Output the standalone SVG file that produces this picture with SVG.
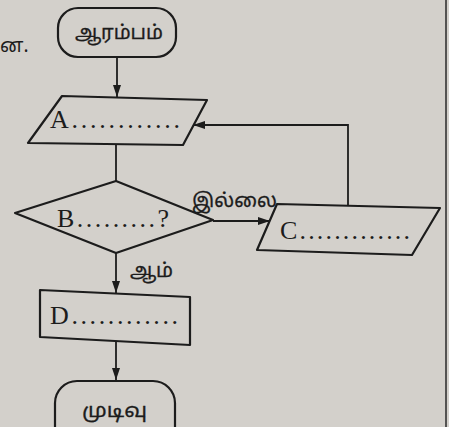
<svg xmlns="http://www.w3.org/2000/svg" width="449" height="427" viewBox="0 0 449 427">
<style>
.bg{fill:#d3d0cb}
.shape{fill:none;stroke:#1c1c1c;stroke-width:2.2;stroke-linejoin:round}
.conn{fill:none;stroke:#1c1c1c;stroke-width:1.8}
.lat{font-family:"Liberation Serif","Times New Roman",serif;font-size:26px;fill:#1c1c1c}
.tam{font-family:"Noto Sans Tamil","Lohit Tamil","Noto Sans","DejaVu Sans",sans-serif;font-size:19px;fill:#1c1c1c;stroke:#1c1c1c;stroke-width:0.3}
</style>
<defs>
<marker id="ah" viewBox="0 0 12 8" refX="12" refY="4" markerWidth="12" markerHeight="8" markerUnits="userSpaceOnUse" orient="auto">
<path d="M0,0 L12,4 L0,8 Z" fill="#1c1c1c"/>
</marker>
</defs>
<rect class="bg" x="0" y="0" width="449" height="427"/>
<line x1="446" y1="0" x2="446" y2="427" stroke="#2a2a2a" stroke-width="1.5"/>
<text class="tam" x="0" y="52" font-size="13" style="stroke-width:0">ன.</text>
<g id="connectors">
<line class="conn" x1="117" y1="57" x2="117" y2="97" marker-end="url(#ah)"/>
<line class="conn" x1="116" y1="145" x2="116" y2="181"/>
<line class="conn" x1="213" y1="221" x2="270" y2="221" marker-end="url(#ah)"/>
<polyline class="conn" points="348,205 348,125 193,125" marker-end="url(#ah)"/>
<line class="conn" x1="116" y1="253" x2="116" y2="293" marker-end="url(#ah)"/>
<line class="conn" x1="116" y1="342" x2="116" y2="380" marker-end="url(#ah)"/>
<text class="tam" x="192" y="207" textLength="85" lengthAdjust="spacingAndGlyphs">இல்லை</text>
<text class="tam" x="130" y="277" textLength="43" lengthAdjust="spacingAndGlyphs">ஆம்</text>
</g>
<g id="start">
<rect class="shape" x="58" y="8" width="118" height="49" rx="20"/>
<text class="tam" x="75" y="39" textLength="88" lengthAdjust="spacingAndGlyphs">ஆரம்பம்</text>
</g>
<g id="A">
<polygon class="shape" points="62,96 207,100 183,145 28,143"/>
<text class="lat" x="50" y="128" textLength="130" lengthAdjust="spacing">A............</text>
</g>
<g id="B">
<polygon class="shape" points="116,181 213,220 116,253 15,213"/>
<text class="lat" x="57" y="227" textLength="112" lengthAdjust="spacing">B.........?</text>
</g>
<g id="C">
<polygon class="shape" points="277,204 440,208 412,255 257,250"/>
<text class="lat" x="280" y="239" textLength="130" lengthAdjust="spacing">C.............</text>
</g>
<g id="D">
<polygon class="shape" points="40,290 190,297 190,345 40,337"/>
<text class="lat" x="50" y="324" textLength="128" lengthAdjust="spacing">D............</text>
</g>
<g id="end">
<rect class="shape" x="55" y="381" width="120" height="70" rx="22"/>
<text class="tam" x="82" y="417" textLength="65" lengthAdjust="spacingAndGlyphs">முடிவு</text>
</g>
</svg>
